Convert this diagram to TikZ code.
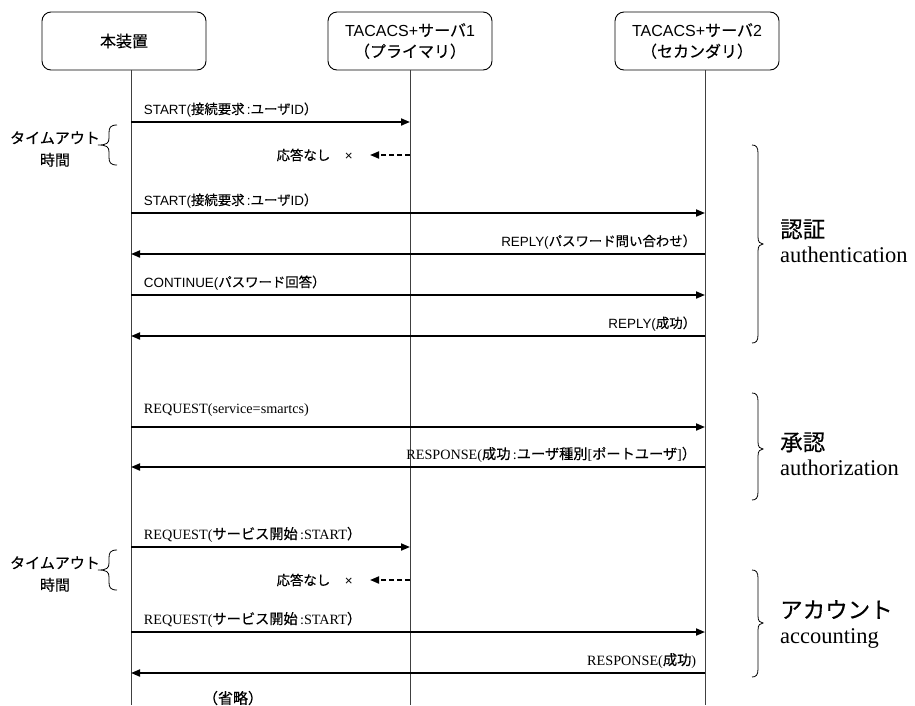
\documentclass[tikz,border=0pt]{standalone}
\usepackage{fontspec}
\setmainfont{Liberation Serif}
\setsansfont{Liberation Sans}
\newfontfamily\jpfont{Noto Sans CJK JP}[FakeBold=0.4]
\usetikzlibrary{positioning,arrows.meta,calc}
\newcommand{\J}[1]{{\jpfont #1}}
\newcommand{\tobrace}[1]{%
  \draw[brc, shift={(0,#1)}] (117,0) .. controls (110,0) and (109,3) .. (109,8) -- (109,13)
    .. controls (109,18) and (107,20) .. (98,20) .. controls (107,20) and (109,22) .. (109,27)
    -- (109,32) .. controls (109,37) and (110,40) .. (117,40);}
\newcommand{\phasebrace}[3]{%
  \draw[brc] (752,#1) .. controls (756,#1) and (758,#1+2) .. (758,#1+8) -- (758,#2-7)
    .. controls (758,#2-2) and (760,#2) .. (763,#2) .. controls (760,#2) and (758,#2+2) .. (758,#2+7)
    -- (758,#3-8) .. controls (758,#3-2) and (756,#3) .. (752,#3);}

\begin{document}
\begin{tikzpicture}[x=1pt, y=-1pt,
  actor/.style={draw, rounded corners=9pt, line width=0.9pt, minimum width=164pt, minimum height=58pt,
    align=center, font=\sffamily\fontsize{16}{21}\selectfont},
  life/.style={line width=0.9pt, black!75},
  msg/.style={line width=1.8pt, -{Triangle[length=9pt,width=7pt]}},
  lost/.style={msg, dash pattern=on 5pt off 3pt, shorten >=17pt},
  sf/.style={font=\sffamily\fontsize{13.4}{16}\selectfont, inner sep=0pt},
  rm/.style={font=\rmfamily\fontsize{14.2}{17}\selectfont, inner sep=0pt},
  fwd/.style={pos=0, anchor=base west, xshift=12pt, yshift=8pt},
  back/.style={pos=0, anchor=base east, xshift=-8pt, yshift=8pt},
  phase/.style={anchor=west, align=left, inner sep=0pt, font=\rmfamily\fontsize{22.5}{25}\selectfont},
  tout/.style={align=center, inner sep=0pt, font=\sffamily\fontsize{15}{22}\selectfont},
  brc/.style={line width=0.8pt}]
  \useasboundingbox (0,0) rectangle (915,705);

  \node[actor] (dev) at (124,41) {\J{本装置}};
  \node[actor] (srvA) at (410,41) {TACACS+\J{サーバ}1\\\J{（プライマリ）}};
  \node[actor] (srvB) at (697,41) {TACACS+\J{サーバ}2\\\J{（セカンダリ）}};

  \coordinate (devL) at (131,70);
  \coordinate (srvAL) at (410,70);
  \coordinate (srvBL) at (705,70);
  \coordinate (bot) at (0,705);
  \draw[life] (devL) -- (devL |- bot);
  \draw[life] (srvAL) -- (srvAL |- bot);
  \draw[life] (srvBL) -- (srvBL |- bot);

  \coordinate (r1) at (0,122);
  \coordinate (r2) at (0,213);
  \coordinate (r3) at (0,254);
  \coordinate (r4) at (0,295);
  \coordinate (r5) at (0,336);
  \coordinate (r6) at (0,427);
  \coordinate (r7) at (0,467);
  \coordinate (r8) at (0,547);
  \coordinate (r9) at (0,632);
  \coordinate (r10) at (0,673);

  \draw[msg] (devL |- r1) -- node[sf, fwd] {START(\J{接続要求}\,:\J{ユーザ}ID\J{）}} (srvAL |- r1);
  \node[sf, anchor=east] (nr1) at (353,155) {\J{応答なし}\hspace{1.1em}×};
  \draw[lost] (srvAL |- nr1) -- (nr1.east);
  \draw[msg] (devL |- r2) -- node[sf, fwd] {START(\J{接続要求}\,:\J{ユーザ}ID\J{）}} (srvBL |- r2);
  \draw[msg] (srvBL |- r3) -- node[sf, back] {REPLY(\J{パスワード問い合わせ）}} (devL |- r3);
  \draw[msg] (devL |- r4) -- node[sf, fwd] {CONTINUE(\J{パスワード回答）}} (srvBL |- r4);
  \draw[msg] (srvBL |- r5) -- node[sf, back] {REPLY(\J{成功）}} (devL |- r5);

  \draw[msg] (devL |- r6) -- node[rm, fwd, yshift=6pt] {REQUEST(service=smartcs)} (srvBL |- r6);
  \draw[msg] (srvBL |- r7) -- node[rm, back] {RESPONSE(\J{成功}\,:\J{ユーザ種別}[\J{ポートユーザ}]\J{）}} (devL |- r7);

  \draw[msg] (devL |- r8) -- node[rm, fwd] {REQUEST(\J{サービス開始}\,:START\J{）}} (srvAL |- r8);
  \node[sf, anchor=east] (nr2) at (353,580) {\J{応答なし}\hspace{1.1em}×};
  \draw[lost] (srvAL |- nr2) -- (nr2.east);
  \draw[msg] (devL |- r9) -- node[rm, fwd] {REQUEST(\J{サービス開始}\,:START\J{）}} (srvBL |- r9);
  \draw[msg] (srvBL |- r10) -- node[rm, back] {RESPONSE(\J{成功})} (devL |- r10);

  \node[sf, font=\sffamily\fontsize{15}{18}\selectfont] (omit) at (233,698) {\J{（省略）}};

  \node[tout] (to1) at (55,149) {\J{タイムアウト}\\\J{時間}};
  \tobrace{125}
  \node[tout] (to2) at (55,574) {\J{タイムアウト}\\\J{時間}};
  \tobrace{550}

  \phasebrace{145}{244}{343}
  \node[phase] (auth) at (780,241) {\J{認証}\\authentication};
  \phasebrace{393}{449}{500}
  \node[phase] (authz) at (780,454) {\J{承認}\\authorization};
  \phasebrace{570}{623}{677}
  \node[phase] (acct) at (780,624) {\J{アカウント}\\accounting};
\end{tikzpicture}
\end{document}
